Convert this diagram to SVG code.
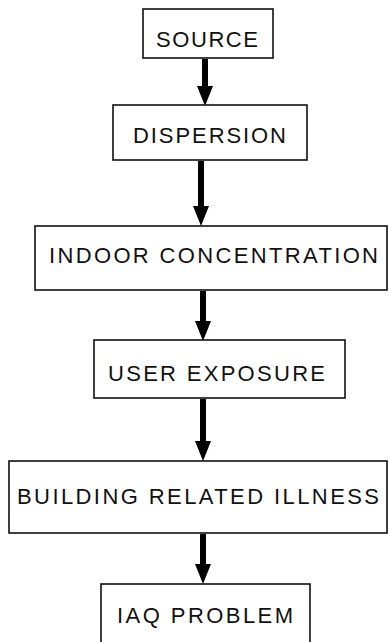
<svg xmlns="http://www.w3.org/2000/svg" width="389" height="642" viewBox="0 0 389 642">
  <style>
    .box { fill: #ffffff; stroke: #111111; stroke-width: 1.6; }
    .lbl { font-family: "Liberation Sans", Arial, sans-serif; font-size: 22px; fill: #111111; }
    .shaft { stroke: #000000; stroke-width: 6; fill: none; marker-end: url(#head); }
  </style>
  <defs>
    <marker id="head" markerUnits="userSpaceOnUse" markerWidth="20" markerHeight="16" refX="0" refY="8" orient="auto">
      <path d="M0,0 L20,8 L0,16 Z" fill="#000000"/>
    </marker>
  </defs>
  <rect width="389" height="642" fill="#ffffff"/>
  <g id="connectors">
    <line class="shaft" x1="205" y1="59" x2="205" y2="86"/>
    <line class="shaft" x1="201" y1="161" x2="201" y2="206"/>
    <line class="shaft" x1="203" y1="291" x2="203" y2="321"/>
    <line class="shaft" x1="203" y1="399" x2="203" y2="441"/>
    <line class="shaft" x1="203" y1="534" x2="203" y2="564"/>
  </g>
  <g id="source">
    <rect class="box" x="143" y="9" width="130" height="49"/>
    <text class="lbl" x="156" y="47" textLength="102" lengthAdjust="spacing">SOURCE</text>
  </g>
  <g id="dispersion">
    <rect class="box" x="113" y="105" width="194" height="55"/>
    <text class="lbl" x="133" y="143" textLength="153" lengthAdjust="spacing">DISPERSION</text>
  </g>
  <g id="indoor-concentration">
    <rect class="box" x="35" y="226" width="352" height="64"/>
    <text class="lbl" x="49" y="263" textLength="329" lengthAdjust="spacing">INDOOR CONCENTRATION</text>
  </g>
  <g id="user-exposure">
    <rect class="box" x="94" y="340" width="251" height="58"/>
    <text class="lbl" x="108" y="381" textLength="217" lengthAdjust="spacing">USER EXPOSURE</text>
  </g>
  <g id="building-related-illness">
    <rect class="box" x="9" y="461" width="378" height="72"/>
    <text class="lbl" x="17" y="504" textLength="362" lengthAdjust="spacing">BUILDING RELATED ILLNESS</text>
  </g>
  <g id="iaq-problem">
    <rect class="box" x="101" y="584" width="209" height="70"/>
    <text class="lbl" x="117" y="623" textLength="176" lengthAdjust="spacing">IAQ PROBLEM</text>
  </g>
</svg>
